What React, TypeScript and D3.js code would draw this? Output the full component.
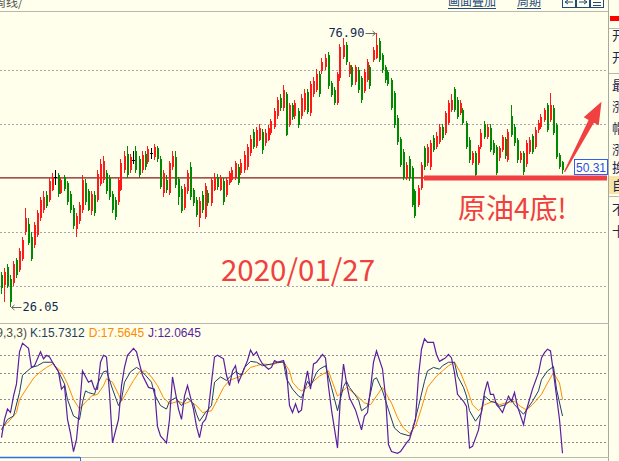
import * as d3 from "d3";

// 日K 蜡烛数据
const opens = [
  31.9, 30.2, 33.5, 31.2, 30.5, 34.8, 33.0, 35.0, 40.0, 41.5, 39.0, 37.5, 39.5, 42.5, 44.0, 46.8, 46.0, 47.8, 50.0, 50.5,
  47.2, 50.2, 49.0, 47.0, 44.5, 40.5, 42.0, 44.0, 49.0, 47.5, 43.8, 46.8, 46.0, 48.8, 49.6, 51.0, 50.0, 47.0, 46.0, 45.5,
  47.8, 51.5, 54.5, 51.5, 53.3, 55.0, 53.5, 51.5, 54.5, 53.0, 54.5, 53.8, 55.5, 53.5, 47.2, 49.6, 47.2, 52.0, 53.8, 49.8,
  48.0, 44.5, 47.5, 52.0, 47.8, 46.0, 42.5, 46.8, 42.8, 47.2, 45.3, 47.8, 50.2, 47.8, 49.5, 46.8, 49.0, 49.6, 50.0, 52.0,
  50.9, 51.5, 52.0, 54.6, 58.5, 56.0, 57.1, 58.5, 56.5, 57.1, 58.4, 59.5, 61.5, 64.9, 63.0, 65.5, 59.8, 63.5, 61.5, 62.5,
  61.5, 62.6, 66.0, 62.0, 65.5, 66.4, 69.2, 69.8, 70.5, 72.8, 67.6, 66.4, 64.0, 68.6, 72.5, 74.7, 69.2, 70.5, 67.8, 70.0,
  68.6, 66.2, 68.2, 70.5, 71.9, 72.3, 75.5, 72.8, 70.5, 69.6, 68.2, 65.8, 61.2, 57.2, 54.8, 50.0, 53.5, 51.8, 47.5, 45.0,
  48.2, 55.5, 52.7, 52.0, 57.5, 55.8, 56.7, 59.5, 58.4, 60.2, 62.6, 66.5, 64.5, 62.0, 62.6, 60.2, 57.1, 52.8, 54.6, 52.8,
  55.8, 60.0, 57.6, 59.3, 56.5, 55.8, 53.7, 55.2, 57.2, 53.3, 61.5, 59.5, 57.1, 53.3, 54.6, 52.5, 54.8, 57.8, 55.8, 58.9,
  59.5, 60.8, 63.5, 60.8, 63.0, 59.8, 54.3, 53.0,
];
const highs = [
  32.5, 33.2, 34.0, 32.0, 34.5, 35.2, 37.0, 39.0, 44.5, 42.5, 40.0, 41.8, 44.0, 46.5, 47.5, 47.5, 50.0, 51.0, 51.5, 51.0,
  50.2, 50.5, 49.5, 47.5, 45.0, 43.5, 45.5, 50.5, 49.8, 48.0, 47.5, 47.5, 51.5, 53.5, 54.0, 51.5, 50.5, 47.5, 46.5, 50.0,
  53.5, 55.0, 56.0, 54.5, 55.0, 56.0, 54.0, 55.0, 55.0, 56.0, 55.5, 56.3, 56.0, 54.0, 51.5, 50.5, 53.2, 55.0, 55.0, 50.2,
  48.5, 48.8, 51.5, 53.0, 48.2, 46.5, 46.5, 47.5, 49.0, 47.8, 50.0, 51.0, 50.8, 50.5, 50.0, 50.0, 51.3, 52.0, 53.2, 52.5,
  53.5, 55.0, 56.3, 58.0, 59.0, 59.5, 60.0, 59.0, 59.0, 59.8, 61.0, 63.0, 65.0, 65.5, 67.2, 66.0, 64.0, 64.0, 64.5, 63.0,
  65.5, 66.5, 66.5, 68.0, 68.8, 70.2, 69.8, 72.2, 73.0, 73.3, 68.0, 66.8, 69.6, 74.8, 76.0, 75.2, 71.6, 71.0, 71.0, 70.5,
  69.0, 70.2, 72.0, 71.0, 74.3, 76.9, 76.0, 73.2, 71.0, 70.0, 68.6, 66.2, 61.6, 57.6, 55.3, 53.0, 54.0, 52.2, 48.0, 48.6,
  53.0, 56.0, 56.3, 57.0, 58.0, 58.5, 60.0, 60.0, 62.5, 64.5, 65.5, 66.8, 65.0, 64.5, 63.0, 60.6, 57.6, 55.0, 55.0, 56.2,
  59.0, 60.6, 60.0, 60.0, 57.0, 56.2, 56.0, 58.0, 57.6, 59.0, 63.6, 60.0, 57.5, 55.0, 55.0, 57.0, 57.6, 58.2, 59.4, 60.8,
  61.8, 63.0, 64.0, 65.8, 63.5, 60.2, 54.6, 53.2,
];
const lows = [
  28.5, 27.0, 29.5, 26.05, 30.0, 31.5, 32.5, 34.5, 39.5, 37.5, 34.5, 37.0, 39.0, 42.0, 43.5, 44.5, 45.5, 47.5, 48.6, 46.5,
  47.0, 47.5, 45.0, 43.5, 40.5, 39.0, 41.5, 43.5, 45.0, 43.8, 43.2, 43.0, 45.5, 48.5, 49.0, 47.0, 46.0, 43.5, 42.2, 45.0,
  47.5, 51.0, 50.0, 51.0, 52.5, 51.0, 50.0, 51.0, 51.5, 52.5, 53.5, 53.3, 53.0, 48.0, 46.5, 47.2, 46.8, 51.5, 48.2, 45.0,
  43.5, 44.0, 47.0, 46.0, 44.8, 42.8, 40.9, 43.5, 42.3, 44.8, 44.8, 47.5, 47.8, 47.5, 45.0, 46.5, 48.6, 49.2, 49.6, 48.6,
  50.5, 51.0, 51.5, 54.0, 55.3, 55.5, 56.8, 54.5, 56.0, 56.8, 58.0, 59.0, 61.0, 62.5, 62.5, 57.8, 59.5, 60.8, 61.0, 59.3,
  61.0, 62.2, 61.8, 61.5, 65.0, 66.0, 65.0, 69.3, 70.0, 66.5, 65.0, 63.5, 63.5, 68.0, 72.0, 71.0, 68.8, 66.8, 67.3, 65.8,
  64.0, 65.8, 67.8, 66.5, 71.5, 72.0, 71.5, 69.5, 67.6, 67.0, 62.6, 59.3, 56.2, 52.0, 49.6, 49.6, 49.5, 44.6, 42.5, 44.6,
  47.8, 51.5, 52.2, 51.5, 54.8, 55.4, 56.3, 57.0, 58.0, 59.8, 62.2, 62.2, 61.0, 61.6, 59.8, 55.3, 52.8, 52.4, 50.0, 52.4,
  55.4, 57.2, 57.2, 54.8, 54.2, 50.5, 53.2, 54.8, 53.6, 53.0, 57.6, 56.0, 52.8, 52.8, 50.5, 52.0, 54.4, 54.4, 55.4, 58.4,
  59.0, 60.4, 58.5, 60.4, 58.0, 53.5, 51.6, 50.8,
];
const closes = [
  29.5, 32.6, 30.0, 27.0, 34.0, 32.0, 36.5, 38.5, 42.5, 38.0, 35.0, 41.2, 43.5, 45.9, 46.5, 44.8, 49.5, 50.2, 50.0, 47.0,
  49.6, 48.0, 45.5, 44.1, 41.0, 43.0, 45.0, 49.6, 45.5, 44.1, 47.0, 43.5, 50.8, 52.5, 53.2, 47.5, 46.5, 44.0, 42.8, 49.6,
  52.8, 54.0, 50.5, 53.9, 53.3, 51.5, 50.5, 54.2, 52.0, 55.4, 54.5, 55.8, 53.5, 48.4, 50.9, 47.8, 52.8, 54.0, 48.7, 46.5,
  43.8, 48.3, 51.0, 46.5, 45.3, 43.2, 45.8, 44.0, 48.5, 45.3, 49.6, 50.2, 48.3, 50.0, 45.5, 49.6, 51.0, 51.5, 52.8, 49.0,
  52.8, 54.3, 55.8, 57.3, 55.8, 58.9, 59.3, 55.2, 58.4, 59.3, 60.5, 62.4, 64.5, 63.0, 66.4, 58.0, 63.5, 61.3, 64.0, 59.8,
  64.9, 65.8, 62.3, 67.5, 68.0, 69.2, 65.6, 71.6, 72.3, 67.0, 65.4, 64.0, 69.2, 74.3, 74.7, 71.5, 71.0, 67.3, 70.5, 66.4,
  64.5, 69.7, 71.6, 67.0, 73.8, 74.7, 71.9, 70.0, 68.2, 67.5, 63.0, 59.8, 56.7, 52.4, 50.0, 52.4, 50.0, 45.0, 43.0, 48.2,
  52.4, 52.0, 55.7, 56.5, 55.2, 57.8, 59.5, 57.4, 62.0, 64.0, 64.5, 62.6, 61.4, 63.9, 60.2, 55.8, 53.3, 54.6, 50.6, 55.8,
  58.4, 57.6, 59.5, 55.2, 54.6, 51.0, 55.5, 57.6, 54.0, 58.6, 58.0, 56.5, 53.3, 54.6, 51.1, 56.5, 57.1, 54.8, 58.9, 60.2,
  61.3, 62.6, 58.9, 63.5, 58.4, 53.9, 52.0, 51.5,
];

// KDJ(9,3,3)：[K线序号, 数值]，按图上转折点估读
const kLine: [number, number][] = [
  [0, 14], [2, 26], [4, 30], [6, 57], [7, 77], [10, 86], [12, 88], [14, 92], [17, 92], [19, 81], [21, 67], [22, 49],
  [24, 30], [26, 26], [27, 46], [28, 59], [29, 57], [31, 55], [32, 67], [34, 81], [35, 82], [37, 61], [39, 42], [40, 49],
  [41, 69], [43, 81], [45, 86], [46, 84], [48, 77], [50, 69], [51, 55], [53, 42], [55, 38], [56, 47], [58, 51], [60, 42],
  [62, 51], [64, 44], [65, 32], [66, 24], [68, 34], [70, 42], [71, 69], [73, 75], [75, 71], [76, 75], [78, 81], [80, 77],
  [81, 86], [83, 93], [85, 92], [87, 88], [90, 90], [92, 92], [94, 92], [95, 73], [97, 61], [99, 53], [100, 51], [101, 60],
  [102, 70], [103, 64], [105, 80], [106, 84], [108, 88], [110, 63], [112, 36], [114, 64], [115, 70], [116, 63], [119, 49],
  [120, 36], [122, 41], [124, 72], [125, 74], [127, 59], [129, 37], [131, 16], [133, 10], [136, 7], [137, 14], [139, 41],
  [141, 70], [142, 82], [144, 86], [146, 84], [147, 88], [149, 92], [151, 92], [152, 76], [154, 63], [155, 53], [156, 36],
  [158, 24], [160, 34], [161, 53], [163, 47], [165, 45], [166, 41], [168, 43], [170, 49], [171, 43], [174, 32], [175, 37],
  [177, 47], [179, 59], [180, 72], [182, 82], [184, 87], [185, 61], [187, 30],
];
const dLine: [number, number][] = [
  [0, 16], [2, 22], [5, 34], [6, 49], [9, 65], [11, 75], [13, 81], [15, 86], [17, 90], [20, 81], [22, 67], [24, 49],
  [26, 38], [28, 46], [30, 53], [32, 55], [34, 65], [35, 73], [37, 69], [39, 55], [40, 47], [42, 59], [44, 71], [46, 81],
  [48, 82], [50, 75], [52, 65], [54, 51], [56, 44], [59, 47], [61, 44], [63, 47], [65, 42], [67, 34], [70, 36], [72, 49],
  [74, 63], [76, 71], [79, 75], [81, 79], [83, 86], [85, 88], [87, 90], [90, 89], [92, 91], [94, 93], [96, 82], [97, 69],
  [99, 61], [100, 59], [102, 63], [104, 70], [106, 76], [109, 82], [110, 72], [112, 53], [115, 63], [118, 55], [121, 45],
  [123, 43], [125, 53], [127, 63], [130, 45], [132, 28], [134, 16], [136, 10], [138, 18], [140, 39], [142, 63], [145, 76],
  [147, 82], [149, 88], [151, 92], [153, 80], [155, 63], [157, 43], [159, 36], [161, 43], [164, 47], [166, 43], [168, 45],
  [171, 47], [173, 41], [175, 37], [177, 43], [180, 55], [182, 68], [184, 80], [186, 68], [187, 49],
];
const jLine: [number, number][] = [
  [0, 5], [1, 26], [2, 38], [3, 34], [4, 53], [5, 67], [6, 104], [7, 114], [9, 108], [10, 86], [11, 88], [12, 96],
  [13, 104], [14, 96], [15, 100], [16, 98], [17, 92], [19, 81], [20, 61], [21, 65], [22, 26], [23, 10], [24, -11], [25, 3],
  [26, 38], [27, 82], [29, 69], [30, 71], [31, 61], [32, 61], [33, 92], [34, 100], [35, 98], [36, 57], [37, -1], [39, 26],
  [40, 65], [41, 86], [42, 100], [44, 108], [45, 104], [46, 90], [47, 77], [49, 63], [51, 61], [52, 18], [53, 7], [55, -1],
  [56, 26], [57, 75], [59, 38], [60, 26], [61, 53], [62, 65], [64, 38], [65, 18], [66, 5], [67, 22], [68, 26], [69, 38],
  [70, 69], [71, 98], [72, 100], [74, 96], [75, 77], [76, 65], [77, 82], [78, 88], [79, 69], [80, 77], [82, 94], [83, 106],
  [84, 100], [85, 104], [86, 96], [87, 90], [89, 84], [90, 86], [91, 94], [92, 92], [94, 94], [95, 82], [96, 42], [97, 34],
  [98, 44], [99, 34], [100, 37], [101, 64], [102, 82], [103, 61], [104, 90], [105, 92], [107, 101], [108, 97], [109, 64],
  [110, 37], [112, -7], [113, 53], [114, 90], [115, 68], [116, 51], [118, 37], [120, 14], [121, 30], [122, 34], [123, 61],
  [124, 92], [125, 105], [127, 84], [128, 53], [129, -3], [130, -11], [132, -13], [133, -11], [135, -1], [136, 3], [138, 26],
  [139, 76], [140, 107], [141, 119], [142, 115], [144, 115], [145, 101], [146, 93], [147, 95], [148, 97], [149, 101],
  [150, 97], [151, 80], [152, 55], [154, 47], [155, 41], [156, -7], [157, -5], [159, 14], [160, 36], [161, 57], [162, 70],
  [163, 55], [164, 55], [165, 43], [166, 39], [167, 34], [169, 53], [170, 47], [171, 57], [172, 41], [174, 20], [175, 37],
  [176, 49], [177, 61], [179, 80], [180, 97], [181, 103], [182, 107], [183, 105], [184, 80], [186, 26], [187, -13],
];

const priceTicks = [30, 40, 50, 60, 70];
const kdjTicks = [0, 20, 50, 80, 100];
const baseLevel = 50;
const lastPriceLabel = "50.31";
const kdjName = "KDJ(9,3,3)";
const kdjValues = [
  { text: "K:15.7312", color: "#1d3f63" },
  { text: "D:17.5645", color: "#ff8a00" },
  { text: "J:12.0645", color: "#5a1ea0" },
];
const sideChars = ["开", "开", "最", "涨", "帽", "涨", "换", "自", "不", "十"];

const W = 619;
const H = 461;
const BG = "#ffffec";
const RED = "#ff1a1a";
const GREEN = "#008a00";
const NOTE_RED = "#f04040";
const PLOT_R = 607;

export default function App() {
  const n = closes.length;
  const x = d3.scaleLinear().domain([0, n - 1]).range([1.5, 562.5]);
  const y = d3.scaleLinear().domain([26.05, 76.9]).range([307, 33]);
  const yk = d3.scaleLinear().domain([0, 100]).range([442, 355.3]);

  const kdjPath = (pts: [number, number][]) =>
    d3.line<[number, number]>().x((d) => x(d[0])).y((d) => yk(d[1]))(pts) ?? "";

  let hiIdx = 0;
  let loIdx = 0;
  highs.forEach((h, i) => { if (h > highs[hiIdx]) hiIdx = i; });
  lows.forEach((l, i) => { if (l < lows[loIdx]) loIdx = i; });

  // 箭头（最后一根K线起）
  const tail: [number, number] = [x(n - 1) + 2, y(closes[n - 1]) + 2];
  const tip: [number, number] = [tail[0] + 37, tail[1] - 70];
  const len = Math.hypot(tip[0] - tail[0], tip[1] - tail[1]);
  const u = [(tip[0] - tail[0]) / len, (tip[1] - tail[1]) / len];
  const pn = [-u[1], u[0]];
  const hb = [tip[0] - 22 * u[0], tip[1] - 22 * u[1]];
  const arrowPts = [
    [tail[0] + 0.6 * pn[0], tail[1] + 0.6 * pn[1]],
    [hb[0] + 3 * pn[0], hb[1] + 3 * pn[1]],
    [hb[0] + 8.5 * pn[0], hb[1] + 8.5 * pn[1]],
    tip,
    [hb[0] - 8.5 * pn[0], hb[1] - 8.5 * pn[1]],
    [hb[0] - 3 * pn[0], hb[1] - 3 * pn[1]],
    [tail[0] - 0.6 * pn[0], tail[1] - 0.6 * pn[1]],
  ].map((p) => p.join(",")).join(" ");

  return (
    <svg
      width={W}
      height={H}
      style={{ position: "absolute", left: 0, top: 0, display: "block" }}
      fontFamily="'Liberation Sans', Arial, sans-serif"
    >
      <rect width={W} height={H} fill={BG} />

      {/* 顶部工具条 */}
      <text x={-6} y={7} fontSize={12} fill="#555" fontFamily="'Noto Sans CJK SC'">周线/</text>
      <g fill="#1f4a80" fontSize={12} fontFamily="'Noto Sans CJK SC'">
        <text x={448} y={6}>画面叠加</text>
        <text x={517} y={6}>周期</text>
      </g>
      <line x1={448} x2={496} y1={8.5} y2={8.5} stroke="#1f4a80" />
      <line x1={517} x2={541} y1={8.5} y2={8.5} stroke="#1f4a80" />
      {[562, 576, 590].map((bx, i) => (
        <g key={bx}>
          <rect x={bx + 0.5} y={-3.5} width={13} height={11} fill="none" stroke="#1f4a80" />
          {i < 2 ? (
            <path
              d={i === 0 ? `M${bx + 3},2 h8 M${bx + 3},2 l3,-2 M${bx + 3},2 l3,2` : `M${bx + 3},2 h8 M${bx + 11},2 l-3,-2 M${bx + 11},2 l-3,2`}
              stroke="#1f4a80"
              fill="none"
            />
          ) : (
            <path d={`M${bx + 3},2.5 h8 M${bx + 3},5.5 h8`} stroke="#1f4a80" />
          )}
        </g>
      ))}
      <line x1={0} x2={609} y1={11.5} y2={11.5} stroke="#b8b8b0" />

      {/* 右侧信息栏（被裁切） */}
      <line x1={608.5} x2={608.5} y1={0} y2={H} stroke="#a8a8a0" />
      <rect x={610} y={16} width={9} height={5} fill="#ff0000" />
      <rect x={609} y={176} width={10} height={18} fill="#f7e4a6" />
      {[28, 73, 196].map((ly) => (
        <line key={ly} x1={609} x2={619} y1={ly + 0.5} y2={ly + 0.5} stroke="#b8b8b0" />
      ))}
      <g fontSize={13} fill="#1a2a50" fontFamily="'Noto Sans CJK SC'">
        {sideChars.map((c, i) => (
          <text key={i} x={612} y={[40, 62, 90, 111, 133, 154, 172, 190, 214, 236][i]}>{c}</text>
        ))}
      </g>

      {/* 主图网格 */}
      {priceTicks.filter((t) => t !== baseLevel).map((t) => (
        <line key={t} x1={0} x2={PLOT_R} y1={Math.round(y(t)) + 0.5} y2={Math.round(y(t)) + 0.5}
          stroke="#a8a8a8" strokeDasharray="2,2" />
      ))}
      <line x1={0} x2={PLOT_R} y1={y(baseLevel)} y2={y(baseLevel)} stroke="#861818" strokeWidth={1.3} />

      {/* K线 */}
      <g shapeRendering="crispEdges">
        {closes.map((c, i) => {
          const o = opens[i];
          const cx = Math.round(x(i));
          const col = c > o ? RED : c < o ? GREEN : "#000";
          const top = y(Math.max(o, c));
          const bot = y(Math.min(o, c));
          return (
            <g key={i}>
              <line x1={cx - 0.5} x2={cx - 0.5} y1={y(highs[i])} y2={y(lows[i])} stroke={col} />
              {c === o ? (
                <line x1={cx - 2} x2={cx + 1} y1={top} y2={top} stroke={col} />
              ) : (
                <rect x={cx - 1} y={top} width={2} height={Math.max(1, bot - top)} fill={col} />
              )}
            </g>
          );
        })}
      </g>

      {/* 最高/最低标注 */}
      <g fontFamily="'DejaVu Sans Mono', monospace" fontSize={12} fill="#0f2a52">
        <text x={x(hiIdx) - 12} y={y(highs[hiIdx]) + 4} textAnchor="end">{highs[hiIdx].toFixed(2)}</text>
        <text x={x(loIdx) + 12} y={y(lows[loIdx]) + 4}>{lows[loIdx].toFixed(2)}</text>
      </g>
      <g stroke="#666" fill="none">
        <path d={`M${x(hiIdx) - 11},${y(highs[hiIdx]) + 0.5} h10 m-3,-2.5 l3,2.5 l-3,2.5`} />
        <path d={`M${x(loIdx) + 11},${y(lows[loIdx]) + 0.5} h-10 m3,-2.5 l-3,2.5 l3,2.5`} />
      </g>

      {/* 注释 */}
      <line x1={424} x2={PLOT_R} y1={y(baseLevel)} y2={y(baseLevel)} stroke={NOTE_RED} strokeWidth={5} />
      <polygon points={arrowPts} fill={NOTE_RED} />
      <rect x={574.5} y={159.5} width={33} height={15} fill={BG} stroke="#2d5cff" />
      <text x={606} y={171.5} textAnchor="end" fontSize={12} fill="#1f4ff0">{lastPriceLabel}</text>
      <text x={458} y={219} fontSize={28} fill={NOTE_RED} fontFamily="'Noto Sans CJK SC'">原油4底!</text>
      <text x={221} y={281} fontSize={29.5} fill={NOTE_RED} fontFamily="'Noto Sans CJK SC'">2020/01/27</text>

      {/* 副图 KDJ */}
      <line x1={0} x2={609} y1={323.5} y2={323.5} stroke="#b8b8b0" />
      <g fontSize={12}>
        <text x={27} y={337} textAnchor="end" fill="#4a4a4a">{kdjName}</text>
        <text x={30} y={337}>
          {kdjValues.map((t, i) => (
            <tspan key={t.text} fill={t.color} dx={i === 0 ? 0 : 4}>{t.text}</tspan>
          ))}
        </text>
      </g>
      {kdjTicks.map((t) => (
        <line key={t} x1={0} x2={PLOT_R} y1={Math.round(yk(t)) + 0.5} y2={Math.round(yk(t)) + 0.5}
          stroke="#8c8c8c" strokeDasharray="2,2" />
      ))}
      <path d={kdjPath(dLine)} fill="none" stroke="#ff8a00" strokeWidth={1} />
      <path d={kdjPath(kLine)} fill="none" stroke="#1d3f63" strokeWidth={1} />
      <path d={kdjPath(jLine)} fill="none" stroke="#5a1ea0" strokeWidth={1.2} />

      {/* 底部 */}
      <line x1={0} x2={609} y1={457.5} y2={457.5} stroke="#b8b8b0" />
      <line x1={0} x2={80} y1={457.5} y2={457.5} stroke="#2a6ee0" strokeWidth={1.5} />
      <line x1={80.5} x2={80.5} y1={457} y2={H} stroke="#2a6ee0" />
    </svg>
  );
}
